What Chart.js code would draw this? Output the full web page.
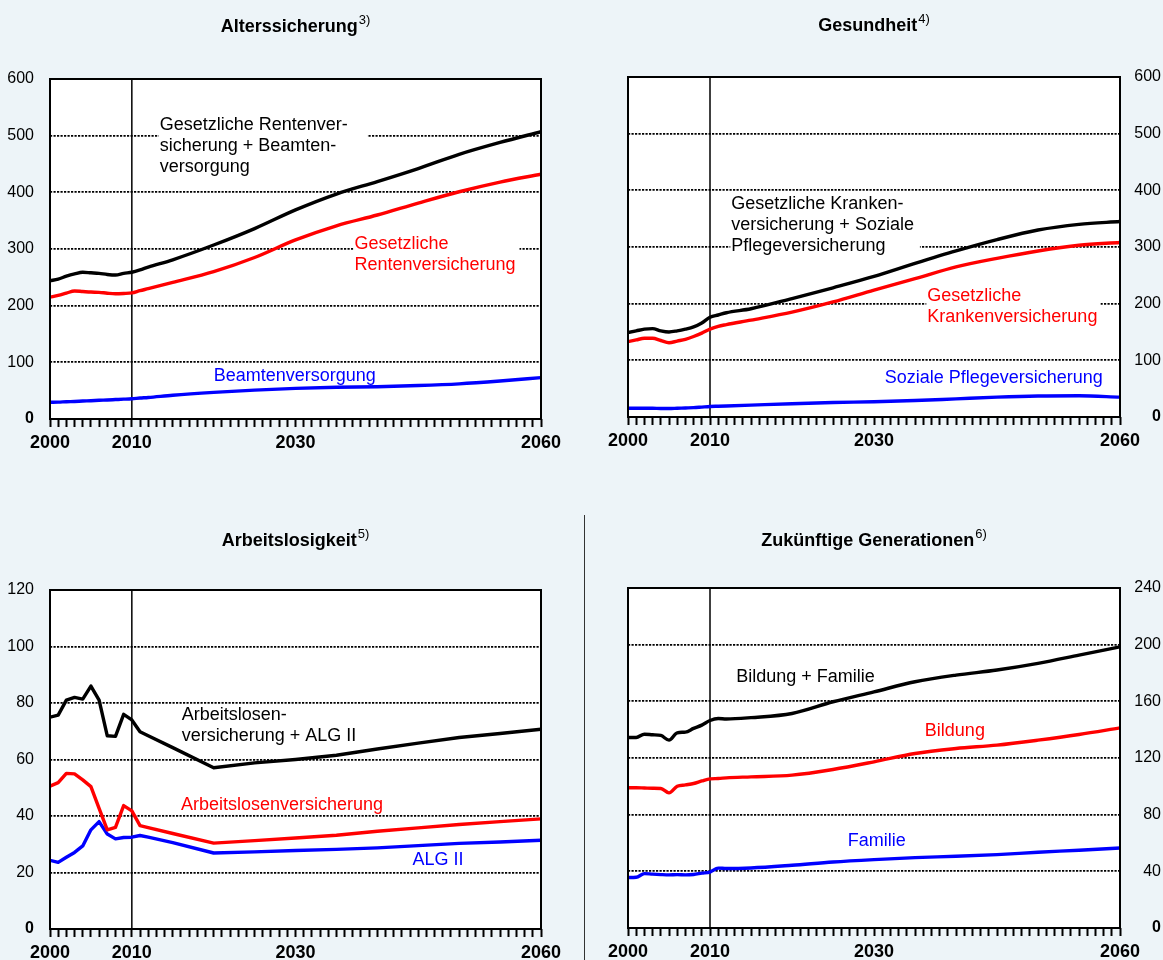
<!DOCTYPE html>
<html lang="de">
<head>
<meta charset="utf-8">
<title>Ausgaben nach Bereichen 2000–2060</title>
<script src="https://cdn.jsdelivr.net/npm/chart.js@4.4.1/dist/chart.umd.min.js"></script>
<style>
  html, body { margin: 0; padding: 0; background: #EDF4F8; }
  #wrap { position: relative; width: 1163px; height: 960px; background: #EDF4F8; overflow: hidden; }
  #wrap canvas { position: absolute; }
  #sep { position: absolute; left: 584px; top: 515px; width: 1px; height: 445px; background: #333; z-index: 2; }
</style>
</head>
<body>
<div id="wrap">
  <canvas id="c1" width="580" height="480" style="left:0;top:0"></canvas>
  <canvas id="c2" width="583" height="480" style="left:580px;top:0"></canvas>
  <canvas id="c3" width="580" height="480" style="left:0;top:480px"></canvas>
  <canvas id="c4" width="583" height="480" style="left:580px;top:480px"></canvas>
  <div id="sep"></div>
</div>
<script>
// ---- data -------------------------------------------------------------
const years = [2000, 2001, 2002, 2003, 2004, 2005, 2006, 2007, 2008, 2009, 2010, 2011, 2012,
               2015, 2020, 2025, 2030, 2035, 2040, 2045, 2050, 2055, 2060];
const xTickLabels = [2000, 2010, 2030, 2060];
const markerYear = 2010;

const titles = ['Alterssicherung', 'Gesundheit', 'Arbeitslosigkeit', 'Zukünftige Generationen'];
const footnotes = ['3)', '4)', '5)', '6)'];

// Alterssicherung
const yTicksAlter = [0, 100, 200, 300, 400, 500, 600];
const rentePlusBeamte = [244, 247, 252, 256, 259, 258, 257, 255, 254, 257, 259, 263, 268,
                         281, 307, 336, 369, 397, 419, 442, 467, 488, 507];
const gesetzlicheRente = [215, 218, 222, 226, 225, 224, 223.5, 222, 221, 221.5, 222.5, 226.5, 230,
                          241, 260, 285, 316, 341, 360, 381, 401, 418, 432];
const beamtenversorgung = [29.5, 29.8, 30.5, 31, 31.7, 32.3, 33, 33.6, 34.3, 35, 35.8, 37, 38,
                           42, 47, 51, 54, 56, 57, 59, 62, 67, 73];

// Gesundheit
const yTicksGesundheit = [0, 100, 200, 300, 400, 500, 600];
const gkvPlusPflege = [149, 152, 155, 156, 152, 150, 152, 155, 159, 166, 176, 180, 184,
                       191, 209, 228, 248, 271, 293, 313, 330, 340, 345];
const gkv = [133, 136, 139, 139, 135, 131, 134, 137, 142, 148, 155, 160, 163,
             171, 185, 203, 224, 244, 265, 280, 293, 303, 308];
const pflege = [15.5, 15.5, 15.5, 15.5, 15, 15, 15.5, 16, 16.5, 17.5, 18.5, 19, 19.5,
                21, 23.5, 25.5, 27, 29, 32, 35, 37, 37.5, 35];

// Arbeitslosigkeit
const yTicksArbeit = [0, 20, 40, 60, 80, 100, 120];
const alvPlusAlg2 = [75, 75.7, 81, 82, 81.4, 86, 81, 68.4, 68.2, 76, 74, 69.8, 68.4,
                     64.2, 57.1, 58.8, 60, 61.5, 63.7, 65.8, 67.8, 69.2, 70.7];
const alv = [50.6, 51.8, 55.1, 54.9, 52.8, 50.4, 42.7, 35.1, 36, 43.7, 41.8, 36.6, 35.9,
             33.8, 30.4, 31.3, 32.2, 33.2, 34.6, 35.8, 37, 38, 39];
const alg2 = [24.3, 23.6, 25.4, 27.1, 29.4, 35.1, 38, 33.6, 31.9, 32.4, 32.5, 33.1, 32.5,
              30.6, 26.9, 27.3, 27.8, 28.2, 28.7, 29.5, 30.3, 30.8, 31.4];

// Zukünftige Generationen
const yTicksGenerationen = [0, 40, 80, 120, 160, 200, 240];
const bildungPlusFamilie = [134.5, 134.5, 136.8, 136.4, 135.9, 132.6, 137.8, 138.3, 140.9, 143.2, 146.5, 147.9, 147.5,
                            148.5, 151.4, 159.7, 166.7, 173.8, 178.5, 182.1, 186.8, 192.6, 198.5];
const bildung = [99, 99, 98.8, 98.6, 98.5, 95.4, 100, 101, 102, 103.8, 105.3, 105.5, 106,
                 106.7, 107.9, 111.9, 117.3, 123.2, 126.7, 129.1, 132.6, 136.6, 141.3];
const familie = [35.6, 35.8, 38.4, 38, 37.7, 37.5, 37.7, 37.5, 37.8, 38.7, 39.5, 42.3, 42,
                 42.4, 44.3, 46.6, 48.3, 49.7, 50.6, 51.8, 53.5, 54.9, 56.5];

// series labels
const txtRentePlusBeamte = ['Gesetzliche Rentenver-', 'sicherung + Beamten-', 'versorgung'];
const txtGesetzlicheRente = ['Gesetzliche', 'Rentenversicherung'];
const txtBeamte = ['Beamtenversorgung'];
const txtGkvPlusPflege = ['Gesetzliche Kranken-', 'versicherung + Soziale', 'Pflegeversicherung'];
const txtGkv = ['Gesetzliche', 'Krankenversicherung'];
const txtPflege = ['Soziale Pflegeversicherung'];
const txtAlvPlusAlg2 = ['Arbeitslosen-', 'versicherung + ALG II'];
const txtAlv = ['Arbeitslosenversicherung'];
const txtAlg2 = ['ALG II'];
const txtBildungPlusFamilie = ['Bildung + Familie'];
const txtBildung = ['Bildung'];
const txtFamilie = ['Familie'];

// ---- styling ------------------------------------------------------------
const FONT = '"Liberation Sans", Arial, Helvetica, sans-serif';
const BLACK = '#000000', RED = '#FF0000', BLUE = '#0000FF';
const NOTE_SIZE = 18, NOTE_LINE = 21;

const allYears = [];
for (let y = 2000; y <= 2060; y++) allYears.push(y);

const panels = [
  { id: 'c1', title: titles[0], foot: footnotes[0], yTicks: yTicksAlter, side: 'left',
    area: { left: 50, right: 541, top: 79, bottom: 419 }, titleBase: 31.5, smooth: true,
    series: [
      { values: rentePlusBeamte, color: BLACK },
      { values: gesetzlicheRente, color: RED },
      { values: beamtenversorgung, color: BLUE } ],
    notes: [
      { lines: txtRentePlusBeamte, color: BLACK, at: [2013.4, 520.6], mask: 20 },
      { lines: txtGesetzlicheRente, color: RED, at: [2037.2, 312.3], mask: 4 },
      { lines: txtBeamte, color: BLUE, at: [2020.0, 79.4] } ] },
  { id: 'c2', title: titles[1], foot: footnotes[1], yTicks: yTicksGesundheit, side: 'right',
    area: { left: 48, right: 540, top: 77, bottom: 417 }, titleBase: 31, smooth: true,
    series: [
      { values: gkvPlusPflege, color: BLACK },
      { values: gkv, color: RED },
      { values: pflege, color: BLUE } ],
    notes: [
      { lines: txtGkvPlusPflege, color: BLACK, at: [2012.6, 379.4], mask: 6 },
      { lines: txtGkv, color: RED, at: [2036.5, 215.3], mask: 3 },
      { lines: txtPflege, color: BLUE, at: [2031.3, 72.3] } ] },
  { id: 'c3', title: titles[2], foot: footnotes[2], yTicks: yTicksArbeit, side: 'left',
    area: { left: 50, right: 541, top: 110, bottom: 449 }, titleBase: 65.7, smooth: false,
    series: [
      { values: alvPlusAlg2, color: BLACK },
      { values: alv, color: RED },
      { values: alg2, color: BLUE } ],
    notes: [
      { lines: txtAlvPlusAlg2, color: BLACK, at: [2016.1, 76.4] },
      { lines: txtAlv, color: RED, at: [2016.0, 44.3] },
      { lines: txtAlg2, color: BLUE, at: [2044.3, 24.8] } ] },
  { id: 'c4', title: titles[3], foot: footnotes[3], yTicks: yTicksGenerationen, side: 'right',
    area: { left: 48, right: 540, top: 108, bottom: 448 }, titleBase: 65.7, smooth: true,
    series: [
      { values: bildungPlusFamilie, color: BLACK },
      { values: bildung, color: RED },
      { values: familie, color: BLUE } ],
    notes: [
      { lines: txtBildungPlusFamilie, color: BLACK, at: [2013.2, 178.0] },
      { lines: txtBildung, color: RED, at: [2036.2, 140.4] },
      { lines: txtFamilie, color: BLUE, at: [2026.8, 62.7] } ] }
];

// plot frame, 2010 marker, series labels and panel title
const panelDecor = {
  id: 'panelDecor',
  beforeDraw(chart) {
    const a = chart.chartArea, ctx = chart.ctx;
    ctx.save();
    ctx.fillStyle = '#FFFFFF';
    ctx.fillRect(a.left, a.top, a.right - a.left, a.bottom - a.top);
    ctx.restore();
  },
  beforeDatasetsDraw(chart) {
    const p = chart.config.options.plugins.panelDecor.panel;
    const { ctx, chartArea: a, scales: { x, y } } = chart;
    ctx.save();
    const mx = x.getPixelForValue(markerYear);
    ctx.strokeStyle = BLACK;
    ctx.lineWidth = 1.5;
    ctx.beginPath();
    ctx.moveTo(mx, a.top);
    ctx.lineTo(mx, a.bottom);
    ctx.stroke();

    ctx.font = NOTE_SIZE + 'px ' + FONT;
    ctx.textAlign = 'left';
    ctx.textBaseline = 'alphabetic';
    p.notes.forEach(n => {
      const left = x.getPixelForValue(n.at[0]);
      const cy = y.getPixelForValue(n.at[1]);
      if (n.mask !== undefined) {
        const w = Math.max(...n.lines.map(t => ctx.measureText(t).width));
        ctx.fillStyle = '#FFFFFF';
        ctx.fillRect(left - 1, cy - 10.5, w + 1 + n.mask, NOTE_LINE * (n.lines.length - 1) + 21);
      }
      ctx.fillStyle = n.color;
      n.lines.forEach((t, i) => ctx.fillText(t, left, cy + 6.5 + i * NOTE_LINE));
    });
    ctx.restore();
  },
  afterDraw(chart) {
    const p = chart.config.options.plugins.panelDecor.panel;
    const { ctx, chartArea: a } = chart;
    ctx.save();
    ctx.strokeStyle = BLACK;
    ctx.lineWidth = 2;
    ctx.strokeRect(a.left, a.top, a.right - a.left, a.bottom - a.top);

    const mainFont = 'bold 18px ' + FONT;
    const supFont = '13px ' + FONT;
    ctx.font = mainFont;
    const wMain = ctx.measureText(p.title).width;
    ctx.font = supFont;
    const wSup = ctx.measureText(p.foot).width;
    const cx = (a.left + a.right) / 2;
    const x0 = cx - (wMain + wSup + 1) / 2;
    ctx.fillStyle = BLACK;
    ctx.textAlign = 'left';
    ctx.textBaseline = 'alphabetic';
    ctx.font = mainFont;
    ctx.fillText(p.title, x0, p.titleBase);
    ctx.font = supFont;
    ctx.fillText(p.foot, x0 + wMain + 1, p.titleBase - 8);
    ctx.restore();
  }
};

function buildPanel(p) {
  const canvas = document.getElementById(p.id);
  const W = canvas.width, H = canvas.height;
  const right = p.side === 'right';
  const padRight = right ? 2 : W - p.area.right;
  const yMin = p.yTicks[0], yMax = p.yTicks[p.yTicks.length - 1];

  return new Chart(canvas, {
    type: 'line',
    data: {
      datasets: p.series.map(s => ({
        data: years.map((yr, i) => ({ x: yr, y: s.values[i] })),
        borderColor: s.color,
        borderWidth: 3.4,
        pointRadius: 0,
        fill: false,
        tension: 0,
        cubicInterpolationMode: p.smooth ? 'monotone' : 'default',
        borderJoinStyle: 'round'
      }))
    },
    options: {
      responsive: false,
      animation: false,
      devicePixelRatio: 1,
      events: [],
      layout: { padding: { left: right ? p.area.left : 0, right: padRight, top: p.area.top, bottom: 0 } },
      plugins: {
        legend: { display: false },
        tooltip: { enabled: false },
        panelDecor: { panel: p }
      },
      scales: {
        x: {
          type: 'linear', min: 2000, max: 2060, position: 'bottom',
          afterBuildTicks: sc => { sc.ticks = allYears.map(v => ({ value: v })); },
          afterFit: sc => { sc.height = H - p.area.bottom; },
          ticks: {
            autoSkip: false, maxRotation: 0, padding: 5, color: BLACK,
            font: { family: FONT, size: 18, weight: 'bold' },
            callback: v => xTickLabels.includes(v) ? String(v) : ''
          },
          grid: { drawOnChartArea: false, drawTicks: true, tickLength: 8, tickWidth: 2, tickColor: BLACK, color: BLACK },
          border: { display: false }
        },
        y: {
          type: 'linear', min: yMin, max: yMax, position: right ? 'right' : 'left',
          afterBuildTicks: sc => { sc.ticks = p.yTicks.map(v => ({ value: v })); },
          afterFit: sc => { sc.width = right ? (W - padRight - p.area.right) : p.area.left; },
          ticks: {
            padding: 16, color: BLACK, crossAlign: right ? 'far' : 'near',
            font: ctx => ({ family: FONT, size: 16, weight: (ctx.tick && ctx.tick.value === 0) ? 'bold' : 'normal' })
          },
          grid: {
            drawTicks: false, lineWidth: 1.8,
            color: ctx => (ctx.tick && ctx.tick.value > yMin && ctx.tick.value < yMax) ? BLACK : 'rgba(0,0,0,0)'
          },
          border: { display: false, dash: [2.2, 1.3] }
        }
      }
    },
    plugins: [panelDecor]
  });
}

panels.forEach(buildPanel);
</script>
</body>
</html>
